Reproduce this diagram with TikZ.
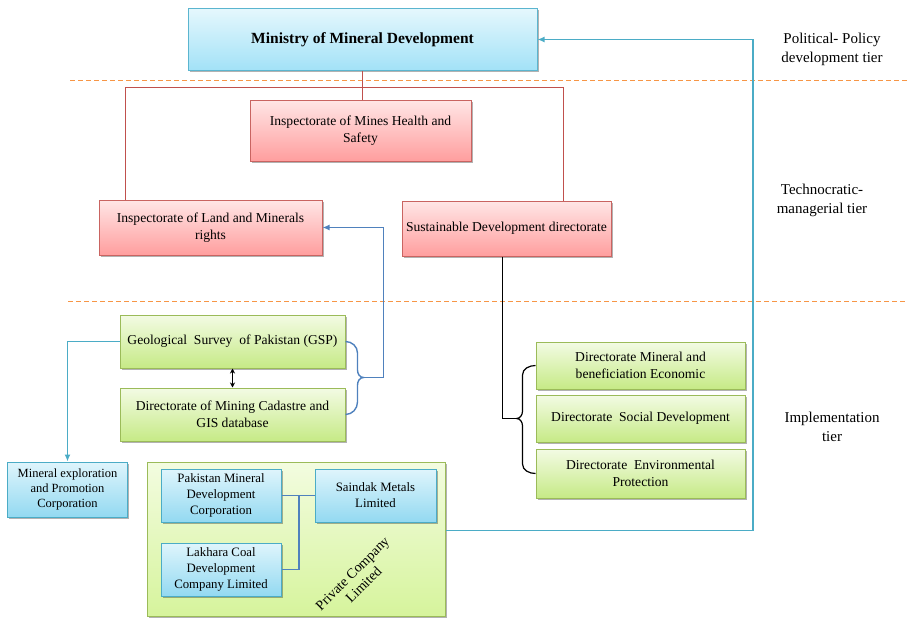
\documentclass[tikz,border=0pt]{standalone}
\usepackage{fontspec}
\setmainfont{Liberation Serif}
\usetikzlibrary{shadows,arrows.meta,calc}
\definecolor{cyantop}{HTML}{E4F7FD}
\definecolor{cyanbot}{HTML}{A3E2F7}
\definecolor{cyanborder}{HTML}{5BB5CF}
\definecolor{redtop}{HTML}{FFE6E6}
\definecolor{redbot}{HTML}{FF9E9E}
\definecolor{redborder}{HTML}{C96461}
\definecolor{redline}{HTML}{C0504D}
\definecolor{greentop}{HTML}{F3FBE4}
\definecolor{greenbot}{HTML}{C6EA86}
\definecolor{greenborder}{HTML}{9BBB59}
\definecolor{bluetop}{HTML}{DFF5FC}
\definecolor{bluebot}{HTML}{93D9F1}
\definecolor{blueborder}{HTML}{4BACC6}
\definecolor{privtop}{HTML}{F3FCE0}
\definecolor{privbot}{HTML}{D6F49C}
\definecolor{linkblue}{HTML}{4F81BD}
\definecolor{linkcyan}{HTML}{4BACC6}
\definecolor{tierorange}{HTML}{F79646}
\tikzset{
  box/.style={draw, line width=1pt, align=center, inner sep=2pt,
    drop shadow={shadow xshift=1.5pt,shadow yshift=-1.5pt,opacity=0.3,fill=black},
    font=\fontsize{13.6}{17.5}\selectfont},
  redbox/.style={box, draw=redborder, top color=redtop, bottom color=redbot},
  greenbox/.style={box, draw=greenborder, top color=greentop, bottom color=greenbot},
  bluebox/.style={box, draw=blueborder, top color=bluetop, bottom color=bluebot,
    font=\fontsize{12.8}{16}\selectfont},
  tierlabel/.style={align=center, font=\fontsize{15}{19}\selectfont},
  tierline/.style={draw=tierorange, line width=1.5pt, dash pattern=on 5pt off 3pt},
  redconn/.style={draw=redline, line width=1.4pt},
  blueconn/.style={draw=linkblue, line width=1.4pt},
  cyanconn/.style={draw=linkcyan, line width=1.4pt},
  blackconn/.style={draw=black, line width=1.2pt},
}
\begin{document}
\begin{tikzpicture}[x=1pt,y=-1pt]
\useasboundingbox (0,0) rectangle (907,618);

% tier separators
\draw[tierline] (70,80.5) -- (907,80.5);
\draw[tierline] (68,301.5) -- (907,301.5);

% tier labels
\node[tierlabel] (t1) at (832,49) {Political- Policy\\development tier};
\node[tierlabel] (t2) at (822,200) {Technocratic-\\managerial tier};
\node[tierlabel] (t3) at (832,427) {Implementation\\tier};

% top
\node[box, draw=cyanborder, top color=cyantop, bottom color=cyanbot,
  minimum width=349pt, minimum height=61pt, font=\fontsize{15.5}{18}\selectfont\bfseries]
  (min) at (362.5,39.5) {Ministry of Mineral Development};

% technocratic tier
\node[redbox, minimum width=221pt, minimum height=61pt] (mines) at (360.5,130.5)
  {Inspectorate of Mines Health and\\Safety};
\node[redbox, minimum width=223pt, minimum height=55pt] (land) at (210.5,227.5)
  {Inspectorate of Land and Minerals\\rights};
\node[redbox, minimum width=209pt, minimum height=55pt] (sd) at (506.5,228.5)
  {Sustainable Development directorate};

% implementation tier
\node[greenbox, minimum width=225pt, minimum height=53pt] (gsp) at (232.5,341.5)
  {Geological~ Survey~ of Pakistan (GSP)};
\node[greenbox, minimum width=225pt, minimum height=53pt] (cad) at (232.5,414.5)
  {Directorate of Mining Cadastre and\\GIS database};
\node[greenbox, minimum width=209pt, minimum height=47pt] (dme) at (640.5,365.5)
  {Directorate Mineral and\\beneficiation Economic};
\node[greenbox, minimum width=209pt, minimum height=47pt] (dsd) at (640.5,418.5)
  {Directorate~ Social Development};
\node[greenbox, minimum width=209pt, minimum height=49pt] (dep) at (640.5,473.5)
  {Directorate~ Environmental\\Protection};

\node[bluebox, minimum width=120pt, minimum height=55pt, font=\fontsize{12.5}{14.8}\selectfont] (mep) at (67.5,489.5)
  {Mineral exploration\\and Promotion\\Corporation};

\node[box, draw=greenborder, top color=privtop, bottom color=privbot,
  minimum width=298pt, minimum height=154pt] (priv) at (296,539) {};
\node[bluebox, minimum width=120pt, minimum height=53pt] (pmdc) at (221,495.5)
  {Pakistan Mineral\\Development\\Corporation};
\node[bluebox, minimum width=121pt, minimum height=53pt] (sml) at (375.5,495.5)
  {Saindak Metals\\Limited};
\node[bluebox, minimum width=120pt, minimum height=53pt] (lcd) at (221,569.5)
  {Lakhara Coal\\Development\\Company Limited};
\node[rotate=45, align=center, font=\fontsize{14}{16}\selectfont, inner sep=0pt] (pcl) at (358,579)
  {Private Company\\Limited};

% red hierarchy connectors
\coordinate (bar) at (362.5,87.5);
\draw[redconn] (min.south) -- (min.south |- mines.north);
\draw[redconn] ([xshift=-85pt]land.north) |- (bar) -| ([xshift=57pt]sd.north);

% GSP / cadastre brace to land
\coordinate (tipA) at (363.5,377.5);
\coordinate (jA) at (383.5,377.5);
\draw[blueconn] (gsp.east) to[out=0,in=90] (357.5,353) -- (357.5,370) to[out=-90,in=180] (tipA)
  to[out=180,in=90] (357.5,385) -- (357.5,402) to[out=-90,in=0] (cad.east);
\draw[blueconn, -{Latex[length=7pt,width=6pt]}] (tipA) -- (jA) |- (land.east);

% GSP <-> cadastre
\draw[blackconn, line width=1.4pt, {Stealth[length=5pt,width=5pt]}-{Stealth[length=5pt,width=5pt]}] (gsp.south) -- (cad.north);

% SD to directorates brace
\coordinate (tipB) at (516.5,418.5);
\coordinate (jB) at (502.5,418.5);
\draw[blackconn] ([xshift=-4pt]sd.south) |- (jB) -- (tipB);
\draw[blackconn] (dme.west) to[out=180,in=90] (522.5,375) -- (522.5,411) to[out=-90,in=0] (tipB)
  to[out=0,in=90] (522.5,426) -- (522.5,464) to[out=-90,in=180] (dep.west);

% GSP to mineral exploration
\draw[cyanconn, -{Latex[length=7pt,width=6pt]}] (gsp.west) -| (mep.north);

% company links
\coordinate (jC) at ([xshift=17.5pt]pmdc.east);
\draw[blueconn] (pmdc.east) -- (sml.west);
\draw[blueconn] (jC) |- (lcd.east);

% private company to ministry
\draw[cyanconn, -{Latex[length=7pt,width=6pt]}] ([yshift=8.5pt]priv.east) -- ++(307.5,0) |- (min.east);
\end{tikzpicture}
\end{document}
